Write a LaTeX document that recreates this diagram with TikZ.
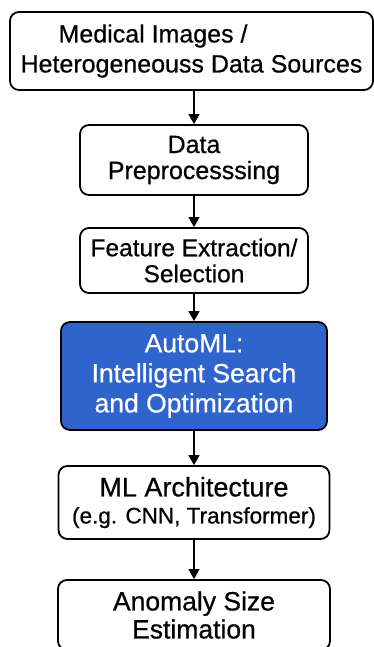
\documentclass[tikz,border=0pt]{standalone}
\usepackage{fontspec}
\setmainfont{Liberation Sans}[FakeBold=0.6]
\usetikzlibrary{arrows.meta}
\definecolor{autoblue}{RGB}{47,100,205}
\tikzset{
  stage/.style={draw=black, line width=1.8pt, rounded corners=9pt, fill=white,
    inner sep=0pt, align=center, text=black},
  hilite/.style={stage, fill=autoblue, text=white},
  flow/.style={draw=black, line width=1.6pt, -{Triangle[length=10pt,width=11pt]}}
}
\newcommand{\fsz}[2]{\fontsize{#1}{#2}\selectfont}
\begin{document}
\begin{tikzpicture}[x=1pt,y=-1pt]
  \useasboundingbox (0,0) rectangle (374,647);
  \clip (0,0) rectangle (374,647);
  \fill[white] (0,0) rectangle (374,647);

  \node[stage, minimum width=363pt, minimum height=78pt, align=left, font=\fsz{25}{30}]
    (src) at (191.5,51) {\hspace*{38pt}Medical Images /\\Heterogeneouss Data Sources};
  \node[stage, minimum width=228pt, minimum height=70pt, font=\fsz{25}{26}]
    (prep) at (194,160) {Data\\Preprocesssing};
  \node[stage, minimum width=228pt, minimum height=65pt, font=\fsz{24.5}{26}]
    (feat) at (194,260.5) {Feature Extraction/\\Selection};
  \node[hilite, minimum width=266pt, minimum height=108pt, font=\fsz{26.5}{30}]
    (auto) at (194,376) {AutoML:\\Intelligent Search\\and Optimization};
  \node[stage, minimum width=271pt, minimum height=73pt, font=\fsz{22.5}{27}]
    (arch) at (194,502.5) {{\fontsize{27}{27}\selectfont ML Architecture}\\(e.g. CNN, Transformer)};
  \node[stage, minimum width=272pt, minimum height=70pt, font=\fsz{26.5}{28}]
    (est) at (194,615) {Anomaly Size\\Estimation};

  \draw[flow] (src.south -| prep.north) -- (prep.north);
  \draw[flow] (prep.south) -- (feat.north);
  \draw[flow] (feat.south) -- (auto.north);
  \draw[flow] (auto.south) -- (arch.north);
  \draw[flow] (arch.south) -- (est.north);
\end{tikzpicture}
\end{document}
